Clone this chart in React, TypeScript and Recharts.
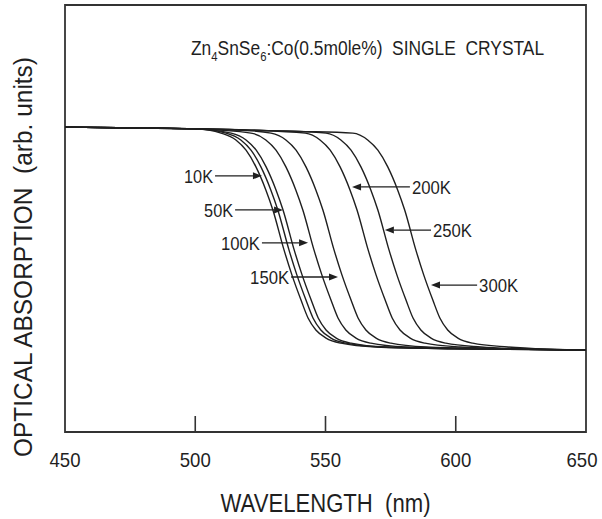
import {
  LineChart,
  Line,
  XAxis,
  YAxis,
  ReferenceArea,
  ReferenceLine,
} from "recharts";

const INK = "#1f1f1f";
const FRAME = "#333333";
const FONT = "'Liberation Sans', Arial, Helvetica, sans-serif";

// [wavelength nm, absorption arb. units]
const CURVE_10K = [[450, 71.4], [480, 71.2], [500, 71.0], [509.9, 70.0], [515.6, 68.4], [519.5, 66.0], [523.3, 62.1], [527.1, 56.7], [529.8, 52.0], [534.1, 42.6], [537.1, 36.8], [540.6, 30.9], [543.3, 26.7], [546.3, 23.9], [550.2, 22.0], [555.9, 20.8], [569.4, 19.9], [600, 19.5], [650, 19.2]];
// unlabeled curve sitting between 10K and 50K
const CURVE_EXTRA = [[450, 71.4], [480, 71.2], [500, 71.0], [511.8, 70.0], [517.5, 68.4], [521.4, 66.0], [525.2, 62.1], [529.0, 56.7], [531.7, 52.0], [536.0, 42.6], [539.0, 36.8], [542.5, 30.9], [545.2, 26.7], [548.2, 23.9], [552.1, 22.0], [557.8, 20.8], [571.3, 19.9], [600, 19.5], [650, 19.2]];
const CURVE_50K = [[450, 71.4], [480, 71.2], [500, 71.0], [513.8, 70.0], [519.5, 68.4], [523.4, 66.0], [527.2, 62.1], [531.0, 56.7], [533.7, 52.0], [538.0, 42.6], [541.0, 36.8], [544.5, 30.9], [547.2, 26.7], [550.2, 23.9], [554.1, 22.0], [559.8, 20.8], [573.3, 19.9], [605, 19.5], [650, 19.2]];
const CURVE_100K = [[450, 71.4], [480, 71.2], [500, 71.0], [521.4, 70.0], [527.1, 68.4], [531.0, 66.0], [534.8, 62.1], [538.6, 56.7], [541.3, 52.0], [545.6, 42.6], [548.6, 36.8], [552.1, 30.9], [554.8, 26.7], [557.8, 23.9], [561.7, 22.0], [567.4, 20.8], [580.9, 19.9], [610, 19.5], [650, 19.2]];
const CURVE_150K = [[450, 71.4], [480, 71.2], [500, 71.0], [515, 70.8], [529.1, 70.0], [534.8, 68.4], [538.7, 66.0], [542.5, 62.1], [546.3, 56.7], [549.0, 52.0], [553.3, 42.6], [556.3, 36.8], [559.8, 30.9], [562.5, 26.7], [565.5, 23.9], [569.4, 22.0], [575.1, 20.8], [588.6, 19.9], [615, 19.5], [650, 19.2]];
const CURVE_200K = [[450, 71.4], [480, 71.2], [500, 71.0], [520, 70.7], [542.2, 70.0], [547.9, 68.4], [551.8, 66.0], [555.6, 62.1], [559.4, 56.7], [562.1, 52.0], [566.4, 42.6], [569.4, 36.8], [572.9, 30.9], [575.6, 26.7], [578.6, 23.9], [582.5, 22.0], [588.2, 20.8], [601.7, 19.9], [625, 19.4], [650, 19.2]];
const CURVE_250K = [[450, 71.4], [480, 71.2], [500, 71.0], [520, 70.7], [535, 70.5], [550.2, 70.0], [555.9, 68.4], [559.8, 66.0], [563.6, 62.1], [567.4, 56.7], [570.1, 52.0], [574.4, 42.6], [577.4, 36.8], [580.9, 30.9], [583.6, 26.7], [586.6, 23.9], [590.5, 22.0], [596.2, 20.8], [609.7, 19.9], [630, 19.4], [650, 19.2]];
const CURVE_300K = [[450, 71.4], [480, 71.2], [500, 71.0], [520, 70.7], [540, 70.4], [560.5, 70.0], [566.2, 68.4], [570.1, 66.0], [573.9, 62.1], [577.7, 56.7], [580.4, 52.0], [584.7, 42.6], [587.7, 36.8], [591.2, 30.9], [593.9, 26.7], [596.9, 23.9], [600.8, 22.0], [606.5, 20.8], [620.0, 19.9], [635, 19.4], [650, 19.2]];

const CURVES = [CURVE_10K, CURVE_EXTRA, CURVE_50K, CURVE_100K, CURVE_150K, CURVE_200K, CURVE_250K, CURVE_300K];

const X_TICKS = [450, 500, 550, 600, 650];
const INNER_TICKS = [500, 550, 600];

// arrow annotations: tail -> tip, in data units
const ARROW_LABELS = ["10K", "50K", "100K", "150K", "200K", "250K", "300K"];
const ARROW_TAIL_X = [507.6, 515.3, 525.6, 536.8, 582.4, 590.5, 608.2];
const ARROW_TIP_X = [525.6, 533.7, 543.3, 554.8, 560.2, 572.8, 590.5];
const ARROW_Y = [60.0, 52.0, 44.3, 36.3, 57.4, 47.3, 34.4];

const toPoints = (c: number[][]) => c.map(([x, y]) => ({ x, y }));

function Arrow(props: any) {
  const { x1, y1, x2, y2, label } = props;
  const dir = x2 > x1 ? 1 : -1;
  const head = 9;
  const half = 3.5;
  const textX = dir > 0 ? x1 - 2 : x1 + 2;
  return (
    <g>
      <line x1={x1} y1={y1} x2={x2 - dir * head} y2={y2} stroke={INK} strokeWidth={1.3} />
      <polygon
        points={`${x2},${y2} ${x2 - dir * head},${y2 - half} ${x2 - dir * head},${y2 + half}`}
        fill={INK}
      />
      <text
        x={textX}
        y={y1}
        dy="0.36em"
        textAnchor={dir > 0 ? "end" : "start"}
        fontFamily={FONT}
        fontSize={19}
        fill={INK}
        textLength={label.length > 3 ? 39 : 29}
        lengthAdjust="spacingAndGlyphs"
      >
        {label}
      </text>
    </g>
  );
}

function XTick(props: any) {
  const { x, y, payload } = props;
  // last label is pulled in a little so it stays inside the picture
  const shift = payload.value === 650 ? -4 : 0;
  return (
    <text
      x={x + shift}
      y={y + 27}
      textAnchor="middle"
      fontFamily={FONT}
      fontSize={21}
      fill={INK}
      textLength={31}
      lengthAdjust="spacingAndGlyphs"
    >
      {payload.value}
    </text>
  );
}

function XLabel(props: any) {
  const { viewBox } = props;
  const cx = viewBox.x + viewBox.width / 2;
  return (
    <text
      x={cx}
      y={512}
      textAnchor="middle"
      fontFamily={FONT}
      fontSize={25}
      fill={INK}
      textLength={210}
      lengthAdjust="spacingAndGlyphs"
      style={{ whiteSpace: "pre" }}
    >
      WAVELENGTH  (nm)
    </text>
  );
}

function YLabel() {
  return (
    <text
      x={32}
      y={257}
      transform="rotate(-90, 32, 257)"
      textAnchor="middle"
      fontFamily={FONT}
      fontSize={26}
      fill={INK}
      textLength={400}
      lengthAdjust="spacingAndGlyphs"
      style={{ whiteSpace: "pre" }}
    >
      OPTICAL ABSORPTION  (arb. units)
    </text>
  );
}

function Title() {
  return (
    <text
      x={0}
      y={0}
      transform="translate(191, 55) scale(0.87, 1)"
      fontFamily={FONT}
      fontSize={20}
      fill={INK}
      style={{ whiteSpace: "pre" }}
    >
      <tspan>Zn</tspan>
      <tspan dy={6} fontSize={13}>4</tspan>
      <tspan dy={-6}>SnSe</tspan>
      <tspan dy={6} fontSize={13}>6</tspan>
      <tspan dy={-6}>:Co(0.5m0le%)  SINGLE  CRYSTAL</tspan>
    </text>
  );
}

export default function App() {
  return (
    <div style={{ position: "absolute", left: 0, top: 0, background: "#fff" }}>
      <LineChart width={602} height={519} margin={{ top: 5, right: 16, bottom: 0, left: 0 }}>
        <XAxis
          type="number"
          dataKey="x"
          domain={[450, 650]}
          ticks={X_TICKS}
          allowDataOverflow
          height={87}
          axisLine={false}
          tickLine={false}
          tick={<XTick />}
          label={<XLabel />}
        />
        <YAxis
          type="number"
          dataKey="y"
          domain={[0, 100]}
          width={65}
          axisLine={false}
          tickLine={false}
          tick={false}
          label={<YLabel />}
        />
        <ReferenceArea
          x1={450}
          x2={650}
          y1={0}
          y2={100}
          fill="none"
          stroke={FRAME}
          strokeWidth={1.8}
        />
        {INNER_TICKS.map((t) => (
          <ReferenceLine
            key={t}
            segment={[{ x: t, y: 0 }, { x: t, y: 3.75 }]}
            stroke={FRAME}
            strokeWidth={1.6}
          />
        ))}
        {CURVES.map((c, i) => (
          <Line
            key={i}
            data={toPoints(c)}
            dataKey="y"
            type="monotone"
            stroke={INK}
            strokeWidth={1.4}
            dot={false}
            isAnimationActive={false}
          />
        ))}
        {ARROW_LABELS.map((lab, i) => (
          <ReferenceLine
            key={lab}
            segment={[
              { x: ARROW_TAIL_X[i], y: ARROW_Y[i] },
              { x: ARROW_TIP_X[i], y: ARROW_Y[i] },
            ]}
            shape={(p: any) => <Arrow {...p} label={lab} />}
          />
        ))}
        <Title />
      </LineChart>
    </div>
  );
}
